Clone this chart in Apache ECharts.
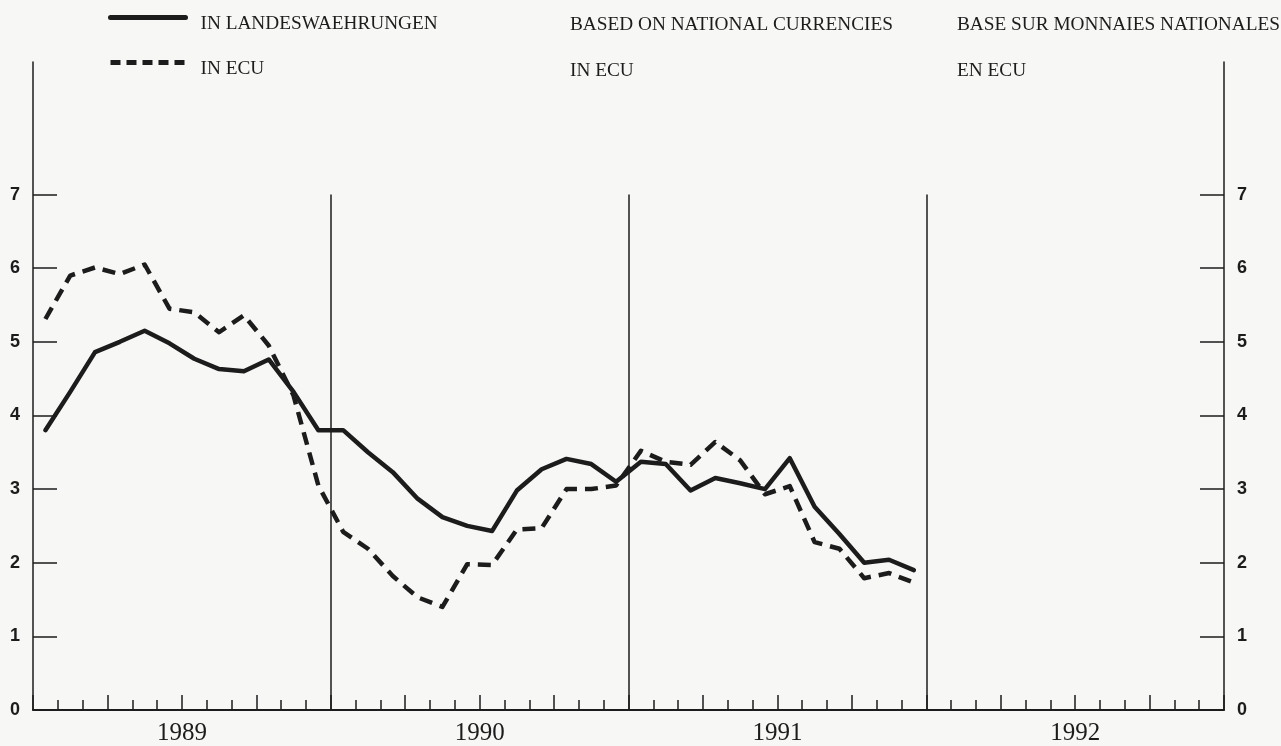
<!DOCTYPE html>
<html>
<head>
<meta charset="utf-8">
<script src="https://cdn.jsdelivr.net/npm/echarts@6/dist/echarts.min.js"></script>
<style>
html,body{margin:0;padding:0;background:#f7f7f5;}
#c{width:1281px;height:746px;}
</style>
</head>
<body>
<div id="c"></div>
<script>
// ---- data (monthly, Jan 1989 .. Dec 1991) ----
const years = ['1989', '1990', '1991', '1992'];
const yTicks = [0, 1, 2, 3, 4, 5, 6, 7];
const dividerMonths = [12, 24, 36];
const nationalCurrencies = [
  3.8, 4.32, 4.86, 5.0, 5.15, 4.98, 4.77, 4.63, 4.6, 4.76, 4.32, 3.8,
  3.8, 3.5, 3.23, 2.87, 2.62, 2.5, 2.43, 2.98, 3.27, 3.41, 3.34, 3.1,
  3.37, 3.34, 2.98, 3.15, 3.08, 3.0, 3.42, 2.76, 2.39, 2.0, 2.04, 1.9
];
const inEcu = [
  5.31, 5.9, 6.01, 5.92, 6.05, 5.45, 5.4, 5.13, 5.36, 4.95, 4.27, 3.05,
  2.42, 2.19, 1.82, 1.53, 1.4, 1.98, 1.97, 2.45, 2.47, 3.0, 3.0, 3.05,
  3.52, 3.37, 3.33, 3.64, 3.39, 2.93, 3.04, 2.28, 2.19, 1.79, 1.86, 1.73
];
const legendDe = ['IN LANDESWAEHRUNGEN', 'IN ECU'];
const textEn = ['BASED ON NATIONAL CURRENCIES', 'IN ECU'];
const textFr = ['BASE SUR MONNAIES NATIONALES', 'EN ECU'];

// ---- chart ----
const serif = '"Liberation Serif", "DejaVu Serif", serif';
const sans = '"Liberation Sans", Arial, sans-serif';
const ink = '#1c1c1c';
const toPts = arr => arr.map((v, i) => [i + 0.5, v]);
const yearLabelAt = {};
years.forEach((y, i) => { yearLabelAt[i * 12 + 6] = y; });

const chart = echarts.init(document.getElementById('c'), null, {renderer: 'canvas'});
const yAxisBase = (pos) => ({
  type: 'value', position: pos, min: 0, max: 8.8,
  splitLine: {show: false},
  axisLine: {show: true, onZero: false, lineStyle: {color: ink, width: 1.5}},
  axisTick: {show: true, inside: true, length: 24, customValues: yTicks, lineStyle: {color: ink, width: 1.5}},
  axisLabel: {show: true, customValues: yTicks, margin: 13,
    fontFamily: sans, fontWeight: 'bold', fontSize: 18, color: ink}
});
const txt = (s, left, top) => ({type: 'text', left: left, top: top,
  style: {text: s, font: '19.3px ' + serif, fill: ink}});
chart.setOption({
  backgroundColor: '#f7f7f5',
  animation: false,
  grid: {left: 33, right: 57, top: 62, bottom: 36},
  legend: {
    orient: 'vertical', left: 108, top: 2, padding: 0,
    itemWidth: 75, itemHeight: 14, itemGap: 14,
    data: [
      {name: legendDe[0], lineStyle: {width: 5, type: 'solid'}},
      {name: legendDe[1], lineStyle: {width: 5, type: [10, 6]}}
    ],
    formatter: n => '\n' + n,
    itemStyle: {opacity: 0},
    lineStyle: {width: 5},
    textStyle: {fontFamily: serif, fontSize: 19.3, lineHeight: 12, color: ink, padding: [0, 0, 0, 10]}
  },
  graphic: [
    txt(textEn[0], 570, 15), txt(textEn[1], 570, 61),
    txt(textFr[0], 957, 15), txt(textFr[1], 957, 61)
  ],
  xAxis: [
    {
      type: 'value', min: 0, max: 48, interval: 1,
      splitLine: {show: false},
      axisLine: {show: true, onZero: false, lineStyle: {color: ink, width: 2}},
      axisTick: {show: true, inside: true, length: 10, lineStyle: {color: ink, width: 1.5}},
      axisLabel: {show: true, customValues: Object.keys(yearLabelAt).map(Number), margin: 11,
        formatter: v => yearLabelAt[v] || '',
        fontFamily: serif, fontSize: 25, color: ink}
    },
    {
      type: 'value', min: 0, max: 48, interval: 3, position: 'bottom',
      splitLine: {show: false},
      axisLine: {show: false},
      axisTick: {show: true, inside: true, length: 15, lineStyle: {color: ink, width: 1.5}},
      axisLabel: {show: false}
    }
  ],
  yAxis: [yAxisBase('left'), yAxisBase('right')],
  series: [
    {
      name: legendDe[0], type: 'line', xAxisIndex: 0, yAxisIndex: 0,
      data: toPts(nationalCurrencies), symbol: 'none', smooth: false,
      lineStyle: {color: ink, width: 4.5, type: 'solid', join: 'round', cap: 'round'},
      itemStyle: {color: ink},
      markLine: {
        silent: true, symbol: 'none', label: {show: false},
        lineStyle: {color: ink, width: 1.5, type: 'solid'},
        data: dividerMonths.map(m => [{coord: [m, 0]}, {coord: [m, 7]}])
      }
    },
    {
      name: legendDe[1], type: 'line', xAxisIndex: 0, yAxisIndex: 0,
      data: toPts(inEcu), symbol: 'none', smooth: false,
      lineStyle: {color: ink, width: 4.5, type: [13, 8], join: 'round'},
      itemStyle: {color: ink}
    }
  ]
});
</script>
</body>
</html>
